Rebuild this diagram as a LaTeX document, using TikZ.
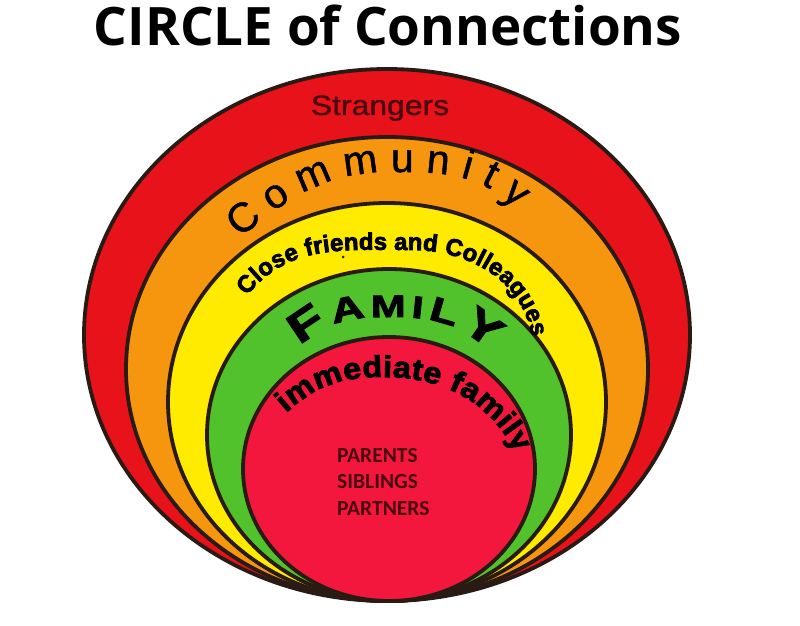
\documentclass[tikz,border=0pt]{standalone}
\usepackage{fontspec}
\usetikzlibrary{decorations.text}

\newfontfamily\titlefont{Open Sans}
\newfontfamily\arialfont{Liberation Sans}[FakeBold=1.2]
\newfontfamily\blackfont{Liberation Sans}[BoldFeatures={FakeBold=3}]
\newfontfamily\immfont{Liberation Sans}[BoldFeatures={FakeBold=3, FakeStretch=1.08}]
\newfontfamily\famfont{Liberation Sans}[BoldFeatures={FakeBold=3, FakeStretch=1.35}]
\newfontfamily\listfont{Carlito}

\definecolor{ringline}{HTML}{2A1A14}
\definecolor{strangerred}{HTML}{E8121B}
\definecolor{communityorange}{HTML}{F6960F}
\definecolor{friendyellow}{HTML}{FFEB00}
\definecolor{familygreen}{HTML}{52C22C}
\definecolor{immediatered}{HTML}{F3173D}
\definecolor{maroontext}{HTML}{4A0A10}

\newcommand{\fsize}[1]{\fontsize{#1}{#1}\selectfont}

\begin{document}
\begin{tikzpicture}[x=1pt, y=1pt,
  ring/.style={draw=ringline, line width=3.8},
  arctext/.style={decorate, decoration={text along path, text color=black, text align={fit to path}}},
  list/.style={anchor=base west, inner sep=0, text=maroontext, font=\listfont\bfseries\fsize{21.5}}]
\useasboundingbox (0,0) rectangle (800,625);

% title
\node[anchor=base, font=\titlefont\bfseries\fsize{53}] (title) at (388,579) {CIRCLE of Connections};

% ring centres
\coordinate (c1) at (387,290);
\coordinate (c2) at (387,256);
\coordinate (c3) at (387,223);
\coordinate (c4) at (389,190);
\coordinate (c5) at (389,156);

% rings, outer to inner
\draw[ring, fill=strangerred] (c1) ellipse [x radius=303, y radius=266];
\draw[ring, fill=communityorange] (c2) ellipse [x radius=261, y radius=232];
\draw[ring, fill=friendyellow] (c3) ellipse [x radius=219, y radius=199];
\draw[ring, fill=familygreen] (c4) ellipse [x radius=182, y radius=166];
\draw[ring, fill=immediatered] (c5) ellipse [x radius=146, y radius=132];

% Strangers
\node[anchor=base, xscale=1.14, text=maroontext, font=\arialfont\fsize{28}] (strangers) at (380,510) {Strangers};

% Community
\path[arctext, decoration={text={|\arialfont\fsize{41}|Community}}]
  (240,387) to[out=40, in=180] (392,453) to[out=0, in=135] (516,416);

% Close friends and Colleagues
\path[arctext, decoration={text={|\blackfont\bfseries\fsize{24}|Close friends and Colleagues}}]
  (247,329) to[out=52, in=180] (410,375) to[out=0, in=100] (532,288);
\fill[ringline] (343,368) circle[radius=1.5];

% FAMILY
\path[arctext, decoration={text={|\famfont\bfseries\fsize{42}|F|\famfont\bfseries\fsize{34}|A|\famfont\bfseries\fsize{31}|MI|\famfont\bfseries\fsize{34}|L|\famfont\bfseries\fsize{42}|Y}}]
  (300,279) to[out=42, in=180] (393,308) to[out=0, in=138] (490,274);

% immediate family
\path[arctext, decoration={text={|\immfont\bfseries\fsize{30}|immediate family}}]
  (286,212) to[out=42, in=180] (382,248) to[out=0, in=118] (516,172);

% inner list
\node[list] (parents) at (337,163) {PARENTS};
\node[list] (siblings) at (337,137) {SIBLINGS};
\node[list] (partners) at (337,110) {PARTNERS};

\end{tikzpicture}
\end{document}
